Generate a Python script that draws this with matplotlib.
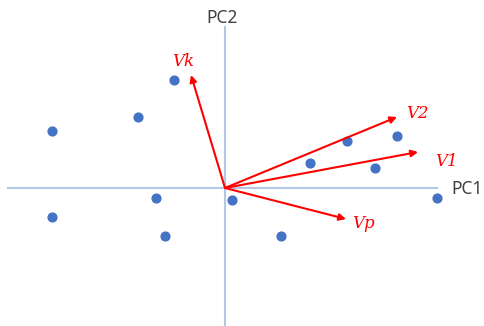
import matplotlib.pyplot as plt

# PCA score points (PC1, PC2)
pc1 = [-5.1, -8.7, -17.3, 12.2, 17.2, 8.5, 15.0, -6.9, 0.7, 21.2, -17.3, -6.0, 5.6]
pc2 = [10.8, 7.1, 5.7, 4.7, 5.2, 2.5, 2.0, -1.0, -1.2, -1.0, -2.9, -4.8, -4.8]

# loading vectors
vec_names = ["Vk", "V2", "V1", "Vp"]
vec_x = [-3.4, 17.2, 19.3, 12.1]
vec_y = [11.3, 7.1, 3.6, -3.1]
label_x = [-4.2, 19.2, 22.1, 13.8]
label_y = [12.6, 7.5, 2.6, -3.5]

fig = plt.figure(figsize=(4.84, 3.26), dpi=100)
ax = fig.add_axes([0, 0, 1, 1])
ax.set_xlim(-22.5, 25.9)
ax.set_ylim(-13.8, 18.8)
ax.axis('off')

# axis lines
ax.plot([-21.7, 21.2], [0, 0], color='#b4c7e7', lw=1.5, zorder=1)
ax.plot([0, 0], [-13.8, 16.1], color='#b4c7e7', lw=1.5, zorder=1)
ax.text(-0.3, 17.0, "PC2", ha='center', va='center', fontsize=12.5,
        color='#404040', family='Noto Sans')
ax.text(24.2, -0.1, "PC1", ha='center', va='center', fontsize=12.5,
        color='#404040', family='Noto Sans')

ax.scatter(pc1, pc2, s=40, color='#4472c4', zorder=3)

for name, x, y, lx, ly in zip(vec_names, vec_x, vec_y, label_x, label_y):
    ax.annotate("", xy=(x, y), xytext=(0, 0),
                arrowprops=dict(arrowstyle='-|>', color='red', lw=1.5,
                                mutation_scale=10, shrinkA=0, shrinkB=0),
                zorder=4)
    ax.text(lx, ly, name, ha='center', va='center', fontsize=12,
            color='red', family='DejaVu Serif', style='italic')

fig.savefig("out.png", dpi=100)
